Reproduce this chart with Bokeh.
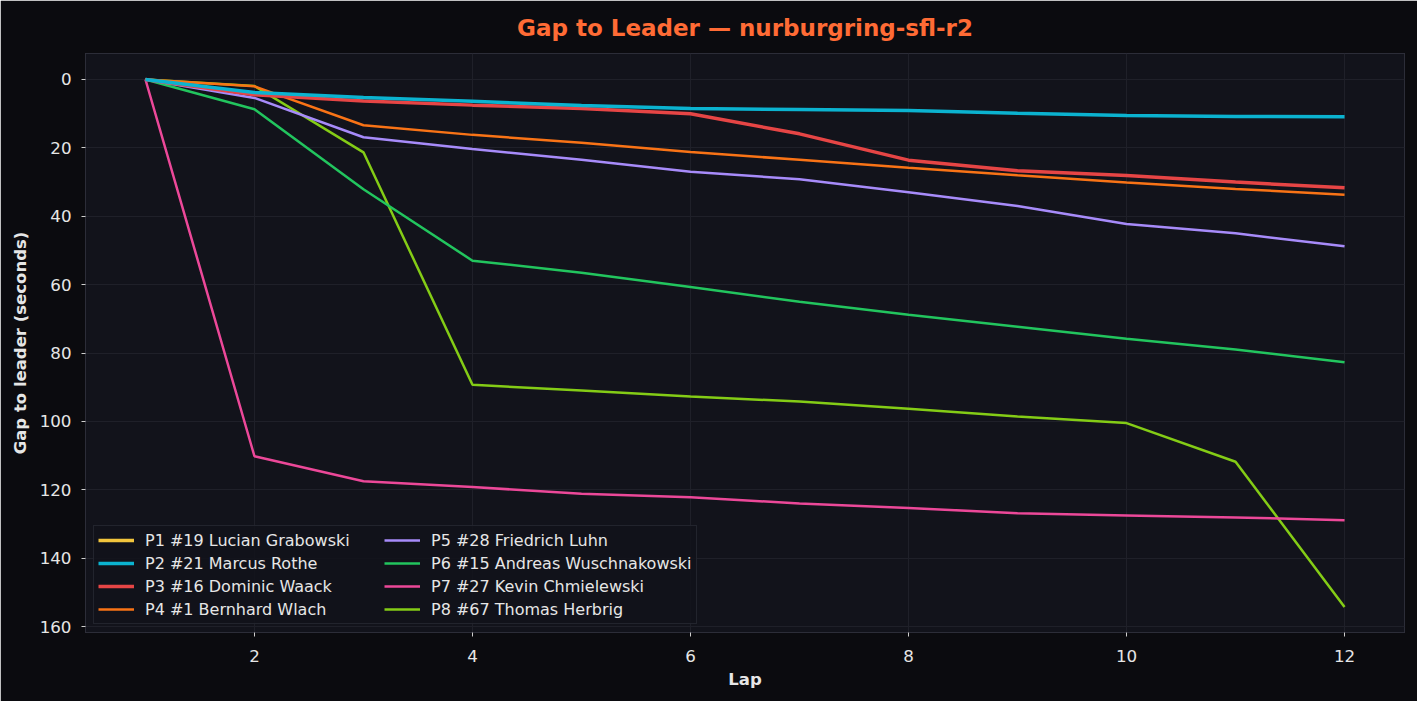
from bokeh.plotting import figure
from bokeh.models import Range1d, FixedTicker, Legend, LegendItem
from bokeh.embed import file_html
from bokeh.resources import INLINE

laps = [1, 2, 3, 4, 5, 6, 7, 8, 9, 10, 11, 12]

names = [
    "P1 #19 Lucian Grabowski",
    "P2 #21 Marcus Rothe",
    "P3 #16 Dominic Waack",
    "P4 #1 Bernhard Wlach",
    "P5 #28 Friedrich Luhn",
    "P6 #15 Andreas Wuschnakowski",
    "P7 #27 Kevin Chmielewski",
    "P8 #67 Thomas Herbrig",
]

p1_laps = [1]
p1_gap = [0.0]
p2_gap = [0.0, 3.8, 5.3, 6.4, 7.6, 8.5, 8.8, 9.1, 9.9, 10.5, 10.8, 10.9]
p3_gap = [0.0, 4.5, 6.3, 7.5, 8.5, 10.0, 15.9, 23.6, 26.7, 28.1, 30.0, 31.7]
p4_gap = [0.0, 2.0, 13.4, 16.2, 18.5, 21.2, 23.5, 25.8, 28.0, 30.1, 32.0, 33.7]
p5_gap = [0.0, 5.4, 16.9, 20.3, 23.5, 27.0, 29.2, 33.0, 37.0, 42.3, 45.0, 48.8]
p6_gap = [0.0, 8.7, 32.1, 53.0, 56.5, 60.7, 65.0, 68.8, 72.3, 75.8, 79.0, 82.7]
p7_gap = [0.0, 110.2, 117.5, 119.2, 121.2, 122.2, 124.0, 125.3, 126.9, 127.5, 128.1, 128.9]
p8_gap = [0.0, 1.9, 21.3, 89.3, 91.0, 92.7, 94.2, 96.3, 98.6, 100.5, 111.8, 154.3]

colors = ["#f2c53d", "#0bb3d0", "#e64545", "#f97316", "#a78bfa", "#22c55e", "#ec4899", "#84cc16"]
widths = [3.5, 3.5, 3.5, 2.5, 2.5, 2.5, 2.5, 2.5]

x_ticks = [2, 4, 6, 8, 10, 12]
y_ticks = [0, 20, 40, 60, 80, 100, 120, 140, 160]

BG = "#0b0b0f"
PLOT_BG = "#12131b"
GRID = "#1f2029"
TXT = "#e6e6e6"

p = figure(width=1417, height=701, output_backend="svg", toolbar_location=None,
           x_range=Range1d(0.45, 12.55), y_range=Range1d(161.75, -7.6))
p.min_border_left = 85
p.min_border_right = 13
p.min_border_top = 52
p.min_border_bottom = 69
p.background_fill_color = PLOT_BG
p.border_fill_color = BG
p.outline_line_color = "#2c2d38"
p.outline_line_width = 1

p.title.text = "Gap to Leader \u2014 nurburgring-sfl-r2"
p.title.align = "center"
p.title.text_color = "#ff6b35"
p.title.text_font = "DejaVu Sans"
p.title.text_font_size = "23px"
p.title.text_font_style = "bold"
p.title.standoff = 25

for ax in (p.xaxis, p.yaxis):
    ax.axis_line_color = None
    ax.major_tick_line_color = "#cfcfcf"
    ax.major_tick_out = 4
    ax.major_tick_in = 0
    ax.minor_tick_line_color = None
    ax.major_label_text_color = TXT
    ax.major_label_text_font = "DejaVu Sans"
    ax.major_label_text_font_size = "16.7px"
    ax.axis_label_text_color = TXT
    ax.axis_label_text_font = "DejaVu Sans"
    ax.axis_label_text_font_size = "16.5px"
    ax.axis_label_text_font_style = "bold"

p.xaxis.ticker = FixedTicker(ticks=x_ticks)
p.yaxis.ticker = FixedTicker(ticks=y_ticks)
p.xaxis.axis_label = "Lap"
p.yaxis.axis_label = "Gap to leader (seconds)"
p.xaxis.major_label_standoff = 13
p.yaxis.major_label_standoff = 10
p.xaxis.axis_label_standoff = 5
p.yaxis.axis_label_standoff = 7

p.xgrid.grid_line_color = GRID
p.ygrid.grid_line_color = GRID
p.xgrid.ticker = FixedTicker(ticks=x_ticks)
p.ygrid.ticker = FixedTicker(ticks=y_ticks)

series = [
    (p1_laps, p1_gap),
    (laps, p2_gap),
    (laps, p3_gap),
    (laps, p4_gap),
    (laps, p5_gap),
    (laps, p6_gap),
    (laps, p7_gap),
    (laps, p8_gap),
]

renderers = [None] * 8
draw_order = [7, 6, 5, 4, 3, 0, 2, 1]
for i in draw_order:
    xs, ys = series[i]
    renderers[i] = p.line(xs, ys, line_color=colors[i], line_width=widths[i])

items = [LegendItem(label=names[i], renderers=[renderers[i]]) for i in range(8)]
legend = Legend(items=items, location="bottom_left", ncols=2)
legend.margin = 8
legend.padding = 4
legend.spacing = 3
legend.glyph_width = 36
legend.glyph_height = 20
legend.label_height = 20
legend.label_width = 236
legend.label_standoff = 11
legend.label_text_font = "DejaVu Sans"
legend.label_text_font_size = "16px"
legend.label_text_color = TXT
legend.background_fill_color = PLOT_BG
legend.background_fill_alpha = 0.9
legend.border_line_color = "#34353f"
legend.border_line_width = 1
p.add_layout(legend)

html = file_html(p, INLINE)
html = html.replace("<body>", '<body style="background:%s;margin:0;">' % BG, 1)
open("out.html", "w").write(html)
